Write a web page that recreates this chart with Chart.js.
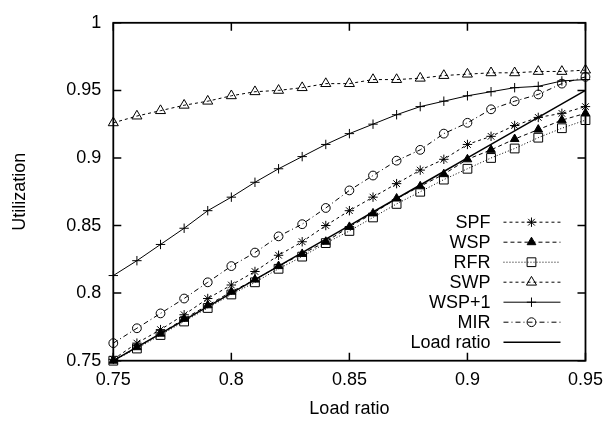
<!DOCTYPE html>
<html>
<head>
<meta charset="utf-8">
<script src="https://cdn.jsdelivr.net/npm/chart.js@4/dist/chart.umd.min.js"></script>
<style>
html,body{margin:0;padding:0;background:#fff;}
#wrap{width:612px;height:423px;position:relative;}
</style>
</head>
<body>
<div id="wrap"><canvas id="c" width="612" height="423"></canvas></div>
<script>
// ---- data ----
const loadRatios = [0.75,0.76,0.77,0.78,0.79,0.80,0.81,0.82,0.83,0.84,0.85,0.86,0.87,0.88,0.89,0.90,0.91,0.92,0.93,0.94,0.95];
const spf  = [0.751,0.763,0.773,0.784,0.796,0.806,0.816,0.828,0.838,0.850,0.861,0.871,0.881,0.891,0.899,0.910,0.916,0.924,0.930,0.933,0.938];
const wsp  = [0.750,0.760,0.770,0.781,0.791,0.801,0.810,0.820,0.829,0.838,0.849,0.859,0.870,0.879,0.888,0.899,0.906,0.914,0.921,0.928,0.933];
const rfr  = [0.750,0.759,0.769,0.779,0.789,0.799,0.808,0.818,0.827,0.837,0.846,0.856,0.866,0.875,0.884,0.892,0.900,0.907,0.915,0.922,0.928];
const swp  = [0.926,0.931,0.935,0.939,0.942,0.946,0.949,0.950,0.952,0.955,0.955,0.958,0.958,0.959,0.961,0.962,0.963,0.963,0.964,0.964,0.965];
const wspPlus1 = [0.813,0.824,0.836,0.848,0.861,0.871,0.882,0.892,0.901,0.910,0.918,0.925,0.932,0.938,0.942,0.946,0.949,0.952,0.953,0.957,0.958];
const mir  = [0.763,0.774,0.785,0.796,0.808,0.820,0.830,0.842,0.851,0.863,0.876,0.887,0.898,0.906,0.918,0.926,0.936,0.942,0.947,0.955,0.960];
const loadLine = [0.75,0.76,0.77,0.78,0.79,0.80,0.81,0.82,0.83,0.84,0.85,0.86,0.87,0.88,0.89,0.90,0.91,0.92,0.93,0.94,0.95];
const xTickValues = [0.75,0.80,0.85,0.90,0.95];
const xTickLabels = ["0.75","0.8","0.85","0.9","0.95"];
const yTickValues = [0.75,0.80,0.85,0.90,0.95,1.00];
const yTickLabels = ["0.75","0.8","0.85","0.9","0.95","1"];

const FONT = {family:"'Liberation Sans', Arial, sans-serif", size:18};
const pts = arr => arr.map((v,i)=>({x:loadRatios[i], y:v}));

function ds(label, arr, style, radius, fill, dash, width){
  return {
    label, data: pts(arr),
    borderColor:'#000', borderWidth: width||1, borderDash: dash||[],
    pointStyle: style||false, pointRadius: style?radius:0,
    pointBorderColor:'#000', pointBorderWidth:1,
    pointBackgroundColor: fill||'rgba(0,0,0,0)',
    backgroundColor: fill||'rgba(0,0,0,0)',
    fill:false, tension:0, clip:false
  };
}

const datasets = [
  ds('SPF', spf, 'star', 4.7, null, [3,3]),
  ds('WSP', wsp, 'triangle', 5, '#000', [4,3]),
  ds('RFR', rfr, 'rect', 6.2, null, [1,2]),
  ds('SWP', swp, 'triangle', 5.8, null, [3,3]),
  ds('WSP+1', wspPlus1, 'cross', 4.7, null, []),
  ds('MIR', mir, 'circle', 4.4, null, [5,3,1,3]),
  ds('Load ratio', loadLine, false, 0, null, [], 1.5)
];

const frame = {
  id:'frame',
  afterDatasetsDraw(chart){
    const {ctx, chartArea:a, scales} = chart;
    ctx.save();
    ctx.strokeStyle='#000'; ctx.lineWidth=1.5; ctx.setLineDash([]);
    const T=8;
    ctx.beginPath();
    xTickValues.forEach(v=>{
      const x=scales.x.getPixelForValue(v);
      ctx.moveTo(x,a.bottom); ctx.lineTo(x,a.bottom-T);
      ctx.moveTo(x,a.top); ctx.lineTo(x,a.top+T);
    });
    yTickValues.forEach(v=>{
      const y=scales.y.getPixelForValue(v);
      ctx.moveTo(a.left,y); ctx.lineTo(a.left+T,y);
      ctx.moveTo(a.right,y); ctx.lineTo(a.right-T,y);
    });
    ctx.stroke();
    ctx.lineWidth=1.8;
    ctx.strokeRect(a.left,a.top,a.right-a.left,a.bottom-a.top);
    // legend
    ctx.font = FONT.size+"px "+FONT.family;
    ctx.fillStyle='#000'; ctx.textAlign='right'; ctx.textBaseline='middle';
    const n = chart.data.datasets.length;
    chart.data.datasets.forEach((d,i)=>{
      const y = a.bottom - 18.5 - (n-1-i)*20;
      ctx.setLineDash([]);
      ctx.fillText(d.label, a.right-95, y+1);
      ctx.lineWidth = d.borderWidth; ctx.setLineDash(d.borderDash);
      ctx.beginPath(); ctx.moveTo(a.right-82,y); ctx.lineTo(a.right-25,y); ctx.stroke();
      ctx.setLineDash([]);
      if(d.pointStyle && Chart.helpers && Chart.helpers.drawPoint){
        ctx.fillStyle = d.pointBackgroundColor; ctx.strokeStyle='#000'; ctx.lineWidth=1;
        Chart.helpers.drawPoint(ctx,{pointStyle:d.pointStyle, radius:d.pointRadius, rotation:0, borderWidth:1}, a.right-54, y);
        ctx.fillStyle='#000';
      }
      ctx.strokeStyle='#000';
    });
    ctx.restore();
  }
};

new Chart(document.getElementById('c'), {
  type:'line',
  data:{datasets},
  options:{
    responsive:false, animation:false, devicePixelRatio:1,
    layout:{padding:{left:0,right:23.7,top:14,bottom:0}},
    plugins:{legend:{display:false}, tooltip:{enabled:false}},
    scales:{
      x:{
        type:'linear', min:0.75, max:0.95,
        afterBuildTicks(s){ s.ticks = xTickValues.map(v=>({value:v})); },
        afterFit(s){ s.height = 423-360.7; },
        ticks:{ callback:(v)=>xTickLabels[xTickValues.findIndex(t=>Math.abs(t-v)<1e-9)], color:'#000', font:FONT, padding:9, maxRotation:0, autoSkip:false },
        grid:{display:true, drawOnChartArea:false, drawTicks:false},
        border:{display:false},
        title:{display:true, text:'Load ratio', color:'#000', font:FONT, padding:{top:4,bottom:3}}
      },
      y:{
        type:'linear', min:0.75, max:1,
        afterBuildTicks(s){ s.ticks = yTickValues.map(v=>({value:v})); },
        afterFit(s){ s.width = 113.3; },
        ticks:{ callback:(v)=>yTickLabels[yTickValues.findIndex(t=>Math.abs(t-v)<1e-9)], color:'#000', font:FONT, padding:12, autoSkip:false },
        grid:{display:true, drawOnChartArea:false, drawTicks:false},
        border:{display:false},
        title:{display:true, text:'Utilization', color:'#000', font:FONT, padding:{top:9,bottom:4}}
      }
    }
  },
  plugins:[frame]
});
</script>
</body>
</html>
